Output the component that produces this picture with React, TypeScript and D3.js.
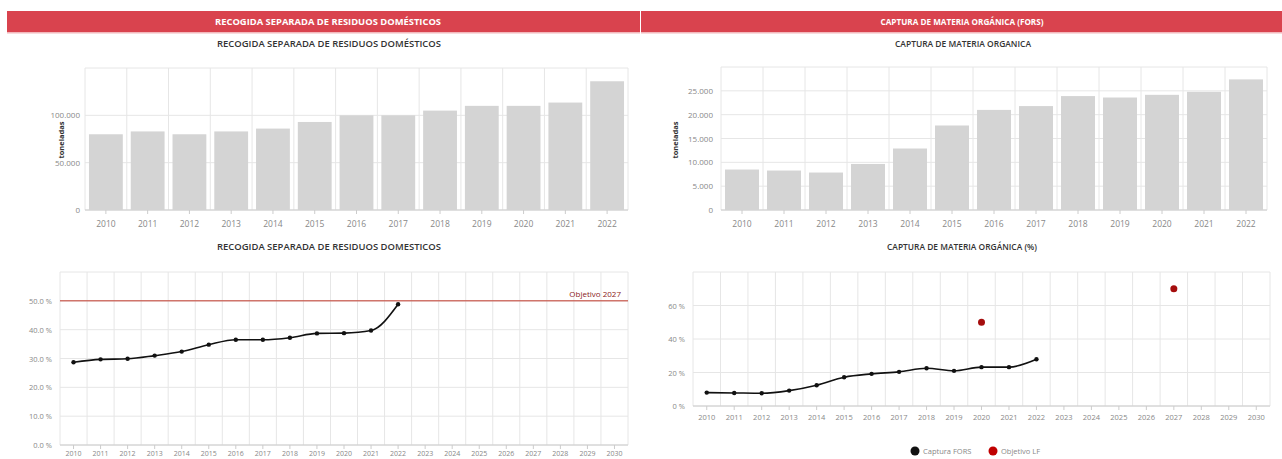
import React from "react";
import * as d3 from "d3";

const years13 = ["2010", "2011", "2012", "2013", "2014", "2015", "2016", "2017", "2018", "2019", "2020", "2021", "2022"];
const years21 = ["2010", "2011", "2012", "2013", "2014", "2015", "2016", "2017", "2018", "2019", "2020", "2021", "2022", "2023", "2024", "2025", "2026", "2027", "2028", "2029", "2030"];

const recogidaToneladas = [80000, 83000, 80000, 83000, 86000, 93000, 100000, 100000, 105000, 110000, 110000, 113500, 136000];
const forsToneladas = [8490, 8280, 7860, 9660, 12900, 17730, 21000, 21800, 23900, 23600, 24160, 24800, 27400];
const recogidaPct = [28.7, 29.7, 29.9, 31.0, 32.4, 34.8, 36.5, 36.5, 37.2, 38.7, 38.8, 39.7, 48.8];
const forsPct = [8.0, 7.8, 7.6, 9.2, 12.4, 17.2, 19.2, 20.4, 22.5, 21.0, 23.2, 23.2, 27.9];
const objetivoLFYears = ["2020", "2027"];
const objetivoLFValues = [50, 70];
const objetivo2027 = 50;

const ticksRecogida = [0, 50000, 100000, 150000];
const ticksFors = [0, 5000, 10000, 15000, 20000, 25000, 30000];
const ticksRecogidaPct = [0, 10, 20, 30, 40, 50, 60];
const ticksForsPct = [0, 20, 40, 60, 80];

const headerLeft = "RECOGIDA SEPARADA DE RESIDUOS DOMÉSTICOS";
const headerRight = "CAPTURA DE MATERIA ORGÁNICA (FORS)";
const titleTL = "RECOGIDA SEPARADA DE RESIDUOS DOMÉSTICOS";
const titleTR = "CAPTURA DE MATERIA ORGANICA";
const titleBL = "RECOGIDA SEPARADA DE RESIDUOS DOMESTICOS";
const titleBR = "CAPTURA DE MATERIA ORGÁNICA (%)";
const yTitle = "toneladas";
const legendLabels = ["Captura FORS", "Objetivo LF"];

const FONT = "'Open Sans', 'DejaVu Sans', sans-serif";
const GRID = "#e6e6e6";
const LABEL = "#888";
const BAR = "#d4d4d4";
const fmtThousands = (v: number) => d3.format(",")(v).replace(/,/g, ".");

type Box = { x0: number; x1: number; y0: number; y1: number };

function Grid({ x, y, ticks, box }: { x: d3.ScaleBand<string>; y: d3.ScaleLinear<number, number>; ticks: number[]; box: Box }) {
  const dom = x.domain();
  const bounds = dom.map((d) => x(d) as number).concat([box.x1]);
  return (
    <g>
      {ticks.map((t) => (
        <line key={"h" + t} x1={box.x0} x2={box.x1} y1={y(t)} y2={y(t)} stroke={GRID} strokeWidth={1} />
      ))}
      {bounds.map((b, i) => (
        <line key={"v" + i} x1={b} x2={b} y1={box.y0} y2={box.y1} stroke={GRID} strokeWidth={1} />
      ))}
      <line x1={box.x0} x2={box.x1} y1={box.y1} y2={box.y1} stroke="#ccc" strokeWidth={1} />
      {dom.map((d) => {
        const cx = (x(d) as number) + x.bandwidth() / 2;
        return <line key={"t" + d} x1={cx} x2={cx} y1={box.y1} y2={box.y1 + 4} stroke="#ccc" strokeWidth={1} />;
      })}
    </g>
  );
}

function BarChart({ box, data, ticks, fmt, labelRight, title, titleX, titleLen, yTitleX, yTitleY }: any) {
  const x = d3.scaleBand<string>().domain(years13).range([box.x0, box.x1]);
  const y = d3.scaleLinear().domain([ticks[0], ticks[ticks.length - 1]]).range([box.y1, box.y0]);
  const bw = x.bandwidth() * 0.81;
  return (
    <g>
      <text x={titleX} y={47} textAnchor="middle" fontFamily={FONT} fontSize={8.5} fontWeight={600} fill="#333" textLength={titleLen} lengthAdjust="spacingAndGlyphs">
        {title}
      </text>
      <Grid x={x} y={y} ticks={ticks} box={box} />
      {data.map((v: number, i: number) => {
        const cx = (x(years13[i]) as number) + x.bandwidth() / 2;
        return <rect key={i} x={cx - bw / 2} y={y(v)} width={bw} height={box.y1 - y(v)} fill={BAR} />;
      })}
      {ticks.slice(0, -1).map((t: number) => (
        <text key={t} x={labelRight} y={y(t) + 3} textAnchor="end" fontFamily={FONT} fontSize={8} fill={LABEL}>
          {fmt(t)}
        </text>
      ))}
      {years13.map((d) => (
        <text key={d} x={(x(d) as number) + x.bandwidth() / 2} y={box.y1 + 17} textAnchor="middle" fontFamily={FONT} fontSize={8.5} fill={LABEL}>
          {d}
        </text>
      ))}
      <text transform={`translate(${yTitleX},${yTitleY}) rotate(-90)`} textAnchor="middle" fontFamily={FONT} fontSize={7.5} fontWeight={700} fill="#333">
        {yTitle}
      </text>
    </g>
  );
}

function App() {
  const boxTL: Box = { x0: 85, x1: 628, y0: 68, y1: 210 };
  const boxTR: Box = { x0: 721, x1: 1267, y0: 67, y1: 210 };
  const boxBL: Box = { x0: 60, x1: 628, y0: 272, y1: 445 };
  const boxBR: Box = { x0: 693, x1: 1270, y0: 272, y1: 406 };

  const xBL = d3.scaleBand<string>().domain(years21).range([boxBL.x0, boxBL.x1]);
  const yBL = d3.scaleLinear().domain([0, 60]).range([boxBL.y1, boxBL.y0]);
  const xBR = d3.scaleBand<string>().domain(years21).range([boxBR.x0, boxBR.x1]);
  const yBR = d3.scaleLinear().domain([0, 80]).range([boxBR.y1, boxBR.y0]);
  const cBL = (d: string) => (xBL(d) as number) + xBL.bandwidth() / 2;
  const cBR = (d: string) => (xBR(d) as number) + xBR.bandwidth() / 2;

  const lineBL = d3
    .line<number>()
    .x((_, i) => cBL(years13[i]))
    .y((v) => yBL(v))
    .curve(d3.curveMonotoneX);
  const lineBR = d3
    .line<number>()
    .x((_, i) => cBR(years13[i]))
    .y((v) => yBR(v))
    .curve(d3.curveMonotoneX);

  return (
    <svg width={1282} height={459} style={{ position: "absolute", left: 0, top: 0, background: "#fff" }}>
      <rect x={7} y={11} width={633} height={21} fill="#d9434e" />
      <rect x={7} y={32} width={633} height={1.5} fill="#f2b8bc" />
      <rect x={641} y={11} width={641} height={21} fill="#d9434e" />
      <rect x={641} y={32} width={641} height={1.5} fill="#f2b8bc" />
      <text x={328} y={24.5} textAnchor="middle" fontFamily={FONT} fontSize={8.5} fontWeight={700} fill="#fff" textLength={226} lengthAdjust="spacingAndGlyphs">
        {headerLeft}
      </text>
      <text x={962} y={24.5} textAnchor="middle" fontFamily={FONT} fontSize={8.5} fontWeight={700} fill="#fff" textLength={163} lengthAdjust="spacingAndGlyphs">
        {headerRight}
      </text>

      <BarChart box={boxTL} data={recogidaToneladas} ticks={ticksRecogida} fmt={fmtThousands} labelRight={80} title={titleTL} titleX={329} titleLen={224} yTitleX={64} yTitleY={140} />
      <BarChart box={boxTR} data={forsToneladas} ticks={ticksFors} fmt={fmtThousands} labelRight={713} title={titleTR} titleX={963} titleLen={136} yTitleX={678} yTitleY={140} />

      <text x={329} y={250} textAnchor="middle" fontFamily={FONT} fontSize={8.5} fontWeight={600} fill="#333" textLength={224} lengthAdjust="spacingAndGlyphs">
        {titleBL}
      </text>
      <Grid x={xBL} y={yBL} ticks={ticksRecogidaPct} box={boxBL} />
      <line x1={boxBL.x0} x2={boxBL.x1} y1={yBL(objetivo2027)} y2={yBL(objetivo2027)} stroke="#c0392b" strokeWidth={1} />
      <text x={621} y={yBL(objetivo2027) - 4} textAnchor="end" fontFamily={FONT} fontSize={8} fill="#8b1a1a">
        Objetivo 2027
      </text>
      <path d={lineBL(recogidaPct) || ""} fill="none" stroke="#111" strokeWidth={1.6} />
      {recogidaPct.map((v, i) => (
        <circle key={i} cx={cBL(years13[i])} cy={yBL(v)} r={2.2} fill="#111" />
      ))}
      {ticksRecogidaPct.slice(0, -1).map((t) => (
        <text key={t} x={52} y={yBL(t) + 3} textAnchor="end" fontFamily={FONT} fontSize={7.5} fill={LABEL}>
          {d3.format(".1f")(t) + " %"}
        </text>
      ))}
      {years21.map((d) => (
        <text key={d} x={cBL(d)} y={456} textAnchor="middle" fontFamily={FONT} fontSize={7} fill={LABEL}>
          {d}
        </text>
      ))}

      <text x={962} y={250} textAnchor="middle" fontFamily={FONT} fontSize={8.5} fontWeight={600} fill="#333" textLength={150} lengthAdjust="spacingAndGlyphs">
        {titleBR}
      </text>
      <Grid x={xBR} y={yBR} ticks={ticksForsPct} box={boxBR} />
      <path d={lineBR(forsPct) || ""} fill="none" stroke="#111" strokeWidth={1.6} />
      {forsPct.map((v, i) => (
        <circle key={i} cx={cBR(years13[i])} cy={yBR(v)} r={2.2} fill="#111" />
      ))}
      {objetivoLFValues.map((v, i) => (
        <circle key={"o" + i} cx={cBR(objetivoLFYears[i])} cy={yBR(v)} r={3.5} fill="#a50d0d" />
      ))}
      {ticksForsPct.slice(0, -1).map((t) => (
        <text key={t} x={685} y={yBR(t) + 3} textAnchor="end" fontFamily={FONT} fontSize={7.5} fill={LABEL}>
          {t + " %"}
        </text>
      ))}
      {years21.map((d) => (
        <text key={d} x={cBR(d)} y={420} textAnchor="middle" fontFamily={FONT} fontSize={7.5} fill={LABEL}>
          {d}
        </text>
      ))}

      <circle cx={915} cy={451} r={4.5} fill="#111" />
      <text x={923} y={454} fontFamily={FONT} fontSize={7.5} fill={LABEL}>
        {legendLabels[0]}
      </text>
      <circle cx={993} cy={451} r={4.5} fill="#c00000" />
      <text x={1001} y={454} fontFamily={FONT} fontSize={7.5} fill={LABEL}>
        {legendLabels[1]}
      </text>
    </svg>
  );
}

export default App;
